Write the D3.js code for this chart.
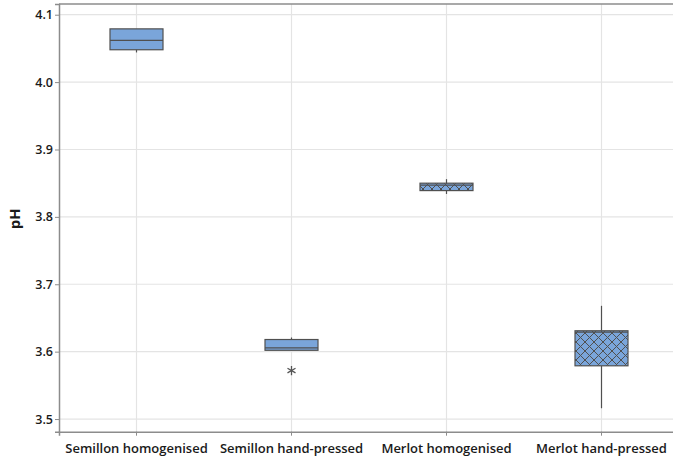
<!DOCTYPE html>
<html>
<head>
<meta charset="utf-8">
<script src="https://cdn.jsdelivr.net/npm/d3@7"></script>
<style>
  html, body { margin: 0; padding: 0; background: #fff; }
  svg { display: block; }
  text { font-family: "Open Sans", "Noto Sans", sans-serif; fill: #1a1a1a; }
</style>
</head>
<body>
<svg id="chart" width="673" height="460"></svg>
<script>
// pH of wine samples by processing method
const categories = ["Semillon homogenised", "Semillon hand-pressed", "Merlot homogenised", "Merlot hand-pressed"];
const whiskerLow  = [4.044, 3.602, 3.834, 3.516];
const q1          = [4.048, 3.602, 3.839, 3.579];
const median      = [4.062, 3.6055, 3.847, 3.629];
const q3          = [4.079, 3.618, 3.850, 3.631];
const whiskerHigh = [4.079, 3.621, 3.856, 3.668];
const hatched     = [false, false, true, true];
const outliers    = [{cat: "Semillon hand-pressed", value: 3.572}];
const yTicks      = [3.5, 3.6, 3.7, 3.8, 3.9, 4.0, 4.1];
const yLabel      = "pH";

const svg = d3.select("#chart");
const W = 673, H = 460;
const m = {left: 59, top: 4, bottom: 431.7};

const x = d3.scaleBand().domain(categories).range([m.left, m.left + 620]).padding(0);
const y = d3.scaleLinear().domain([3.4812, 4.1159]).range([m.bottom, m.top]);

const fill = "#7aa5da", edge = "#505050";

// crosshatch fill
const defs = svg.append("defs");
const pat = defs.append("pattern").attr("id", "xhatch")
  .attr("patternUnits", "userSpaceOnUse").attr("width", 9).attr("height", 9);
pat.append("rect").attr("width", 9).attr("height", 9).attr("fill", fill);
pat.append("path").attr("d", "M0,0L9,9M9,0L0,9M-1,8L1,10M8,-1L10,1M-1,1L1,-1M8,10L10,8")
  .attr("stroke", edge).attr("stroke-width", 1);

// grid
const grid = svg.append("g");
grid.selectAll("line.h").data(yTicks).join("line")
  .attr("x1", m.left).attr("x2", W).attr("y1", d => y(d)).attr("y2", d => y(d))
  .attr("stroke", "#e4e4e4").attr("stroke-width", 1.2);
grid.selectAll("line.v").data(categories).join("line")
  .attr("x1", d => x(d) + x.bandwidth() / 2).attr("x2", d => x(d) + x.bandwidth() / 2)
  .attr("y1", m.top).attr("y2", m.bottom)
  .attr("stroke", "#e4e4e4").attr("stroke-width", 1.2);

// frame
svg.append("line").attr("x1", m.left).attr("x2", W).attr("y1", m.top).attr("y2", m.top)
  .attr("stroke", "#8c8c8c").attr("stroke-width", 1.5);

// boxes
const bw = 53;
const data = categories.map((c, i) => ({c, lo: whiskerLow[i], q1: q1[i], med: median[i], q3: q3[i], hi: whiskerHigh[i], h: hatched[i]}));
const g = svg.append("g");
data.forEach(d => {
  const cx = x(d.c) + x.bandwidth() / 2;
  g.append("line").attr("x1", cx).attr("x2", cx).attr("y1", y(d.hi)).attr("y2", y(d.q3))
    .attr("stroke", edge).attr("stroke-width", 1.2);
  g.append("line").attr("x1", cx).attr("x2", cx).attr("y1", y(d.q1)).attr("y2", y(d.lo))
    .attr("stroke", edge).attr("stroke-width", 1.2);
  g.append("rect").attr("x", cx - bw / 2).attr("width", bw)
    .attr("y", y(d.q3)).attr("height", y(d.q1) - y(d.q3))
    .attr("fill", d.h ? "url(#xhatch)" : fill)
    .attr("stroke", edge).attr("stroke-width", 1.2);
  g.append("line").attr("x1", cx - bw / 2).attr("x2", cx + bw / 2)
    .attr("y1", y(d.med)).attr("y2", y(d.med))
    .attr("stroke", edge).attr("stroke-width", 1.2);
});

// outliers
g.selectAll("path.out").data(outliers).join("path")
  .attr("transform", d => `translate(${x(d.cat) + x.bandwidth() / 2},${y(d.value)})`)
  .attr("d", d3.symbol(d3.symbolAsterisk, 60))
  .attr("stroke", "#555").attr("stroke-width", 1.3).attr("fill", "none");

// axes
const yAxis = svg.append("g").attr("transform", `translate(${m.left},0)`)
  .call(d3.axisLeft(y).tickValues(yTicks).tickFormat(d3.format(".1f")).tickSize(4).tickPadding(2));
const xAxis = svg.append("g").attr("transform", `translate(0,${m.bottom})`)
  .call(d3.axisBottom(x).tickSize(4).tickPadding(8));
[yAxis, xAxis].forEach(a => {
  a.select(".domain").attr("stroke", "#8c8c8c").attr("stroke-width", 1.5);
  a.selectAll(".tick line").attr("stroke", "#8c8c8c");
});
yAxis.selectAll("text").attr("font-size", 12.5).attr("font-weight", 600).attr("fill", "#1a1a1a")
  .style("font-family", '"Open Sans", sans-serif');
xAxis.selectAll("text").attr("font-size", 13).attr("font-weight", 600).attr("fill", "#1a1a1a")
  .style("font-family", '"Open Sans", sans-serif');

svg.append("text").attr("transform", `translate(20,${(m.top + m.bottom) / 2 + 1}) rotate(-90)`)
  .attr("text-anchor", "middle").attr("font-size", 15).attr("font-weight", 700)
  .text(yLabel);
</script>
</body>
</html>
